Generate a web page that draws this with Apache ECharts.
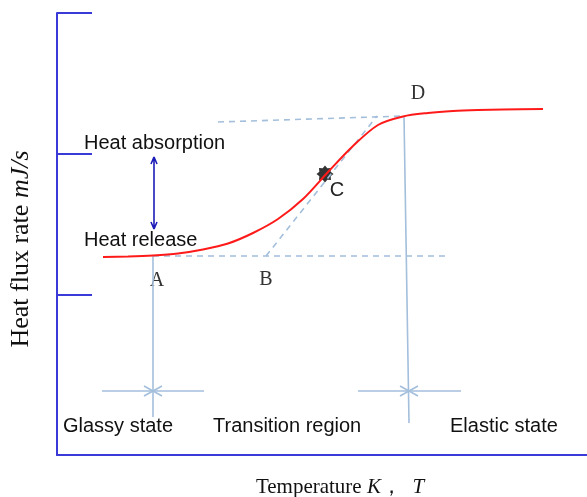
<!DOCTYPE html>
<html>
<head>
<meta charset="utf-8">
<script src="https://cdn.jsdelivr.net/npm/echarts@6/dist/echarts.min.js"></script>
<style>html,body{margin:0;padding:0;background:#fff;}#c{width:587px;height:497px;}</style>
</head>
<body>
<div id="c"></div>
<script>
// ---- data (schematic units) ----
var curveX = [9.2, 14.2, 19.2, 24.2, 29.2, 34.2, 39.2, 44.2, 49.2, 54.2, 59.2, 64.2, 69.2, 74.2, 79.2, 84.2, 89.2, 97.2];
var curveY = [39.6, 39.7, 39.9, 40.3, 41.1, 42.3, 44.4, 47.2, 51.2, 56.6, 61.8, 66.0, 67.7, 68.4, 68.8, 69, 69.1, 69.2];
var baselineX = [19.2, 77.6];
var baselineY = [39.8, 39.8];
var topLineX = [32.2, 69.4];
var topLineY = [66.6, 67.8];
var tangentX = [41.8, 64];
var tangentY = [39.8, 67.8];
var vertAX = [19.2, 19.2];
var vertAY = [39.8, 7.6];
var vertDX = [69.4, 70.4];
var vertDY = [67.8, 6.4];
var arrowRowY = 12.8;
var arrowLeftX = [9, 29.4];   // bar around point A
var arrowRightX = [60.2, 80.8]; // bar around point D
var arrowCenters = [19.2, 70.4];
var pointC = [53.6, 56.2];
var dblArrowX = 19.4;
var dblArrowY = [59.6, 45.2];
var yTickValues = [32, 60.2, 88.4];

function pairs(xs, ys) { return xs.map(function (x, i) { return [x, ys[i]]; }); }

var thin = '#a3bfdc';
var axisBlue = '#3a3ad8';

// chevrons for the region arrows
var chevrons = [];
arrowCenters.forEach(function (cx) {
  chevrons.push([cx - 1.8, arrowRowY + 1], [cx, arrowRowY], [cx - 1.8, arrowRowY - 1], '-');
  chevrons.push([cx + 1.8, arrowRowY + 1], [cx, arrowRowY], [cx + 1.8, arrowRowY - 1], '-');
});
var dbl = [[dblArrowX, dblArrowY[0]], [dblArrowX, dblArrowY[1]], '-',
  [dblArrowX - 0.6, dblArrowY[0] - 1.4], [dblArrowX, dblArrowY[0]], [dblArrowX + 0.6, dblArrowY[0] - 1.4], '-',
  [dblArrowX - 0.6, dblArrowY[1] + 1.4], [dblArrowX, dblArrowY[1]], [dblArrowX + 0.6, dblArrowY[1] + 1.4]];

// 8-point star path
function starPath(n, ro, ri) {
  var p = '';
  for (var i = 0; i < 2 * n; i++) {
    var r = i % 2 === 0 ? ro : ri;
    var a = Math.PI * i / n - Math.PI / 2;
    p += (i === 0 ? 'M' : 'L') + (50 + r * Math.cos(a)).toFixed(2) + ',' + (50 + r * Math.sin(a)).toFixed(2);
  }
  return 'path://' + p + 'Z';
}

function dashed(data) {
  return { type: 'line', data: data, symbol: 'none', silent: true,
    lineStyle: { color: thin, width: 1.6, type: [6, 5] } };
}
function solid(data, color, w) {
  return { type: 'line', data: data, symbol: 'none', silent: true, connectNulls: false,
    lineStyle: { color: color, width: w } };
}

var chart = echarts.init(document.getElementById('c'), null, { renderer: 'canvas' });
var sans = 'Liberation Sans, Arial, sans-serif';
var serif = 'Liberation Serif, Times New Roman, serif';

chart.setOption({
  animation: false,
  backgroundColor: '#fff',
  grid: { left: 57, right: 0, top: 13, bottom: 42 },
  xAxis: {
    type: 'value', min: 0, max: 106,
    axisLine: { show: true, lineStyle: { color: axisBlue, width: 2 } },
    axisTick: { show: false }, axisLabel: { show: false }, splitLine: { show: false }
  },
  yAxis: {
    type: 'value', min: 0, max: 88.4,
    axisLine: { show: true, lineStyle: { color: axisBlue, width: 2 } },
    axisTick: { show: true, inside: true, length: 35, customValues: yTickValues,
      lineStyle: { color: axisBlue, width: 2 } },
    axisLabel: { show: false }, splitLine: { show: false }
  },
  series: [
    dashed(pairs(baselineX, baselineY)),
    dashed(pairs(topLineX, topLineY)),
    dashed(pairs(tangentX, tangentY)),
    solid(pairs(vertAX, vertAY), thin, 1.6),
    solid(pairs(vertDX, vertDY), thin, 1.6),
    solid([[arrowLeftX[0], arrowRowY], [arrowLeftX[1], arrowRowY]], thin, 1.6),
    solid([[arrowRightX[0], arrowRowY], [arrowRightX[1], arrowRowY]], thin, 1.6),
    solid(chevrons, thin, 1.6),
    solid(dbl, '#1c1cb8', 1.6),
    { type: 'line', data: pairs(curveX, curveY), smooth: 0.3, symbol: 'none', silent: true,
      lineStyle: { color: '#ff1a1a', width: 2 } },
    { type: 'scatter', data: [pointC], symbol: starPath(8, 50, 36), symbolSize: 17,
      itemStyle: { color: '#000' }, silent: true }
  ],
  graphic: [
    { type: 'text', x: 84, y: 143, style: { text: 'Heat absorption', font: '20px ' + sans, fill: '#111', verticalAlign: 'middle' } },
    { type: 'text', x: 84, y: 240, style: { text: 'Heat release', font: '20px ' + sans, fill: '#111', verticalAlign: 'middle' } },
    { type: 'text', x: 157, y: 281, style: { text: 'A', font: '20px ' + serif, fill: '#333', align: 'center', verticalAlign: 'middle' } },
    { type: 'text', x: 266, y: 280, style: { text: 'B', font: '20px ' + serif, fill: '#333', align: 'center', verticalAlign: 'middle' } },
    { type: 'text', x: 337, y: 190, style: { text: 'C', font: '20px ' + sans, fill: '#222', align: 'center', verticalAlign: 'middle' } },
    { type: 'text', x: 418, y: 94, style: { text: 'D', font: '20px ' + serif, fill: '#333', align: 'center', verticalAlign: 'middle' } },
    { type: 'text', x: 63, y: 426, style: { text: 'Glassy state', font: '20px ' + sans, fill: '#111', verticalAlign: 'middle' } },
    { type: 'text', x: 213, y: 426, style: { text: 'Transition region', font: '20px ' + sans, fill: '#111', verticalAlign: 'middle' } },
    { type: 'text', x: 450, y: 426, style: { text: 'Elastic state', font: '20px ' + sans, fill: '#111', verticalAlign: 'middle' } },
    { type: 'text', x: 340, y: 487, style: {
        text: '{a|Temperature }{b|K}{a|，  }{b|T}', align: 'center', verticalAlign: 'middle',
        rich: { a: { font: '21px ' + serif, fill: '#111' }, b: { font: 'italic 21px ' + serif, fill: '#111' } } } },
    { type: 'text', x: 21, y: 249, rotation: Math.PI / 2, style: {
        text: '{a|Heat flux rate }{b|mJ/s}', align: 'center', verticalAlign: 'middle',
        rich: { a: { font: '26px ' + serif, fill: '#111' }, b: { font: 'italic 26px ' + serif, fill: '#111' } } } }
  ]
});
</script>
</body>
</html>
